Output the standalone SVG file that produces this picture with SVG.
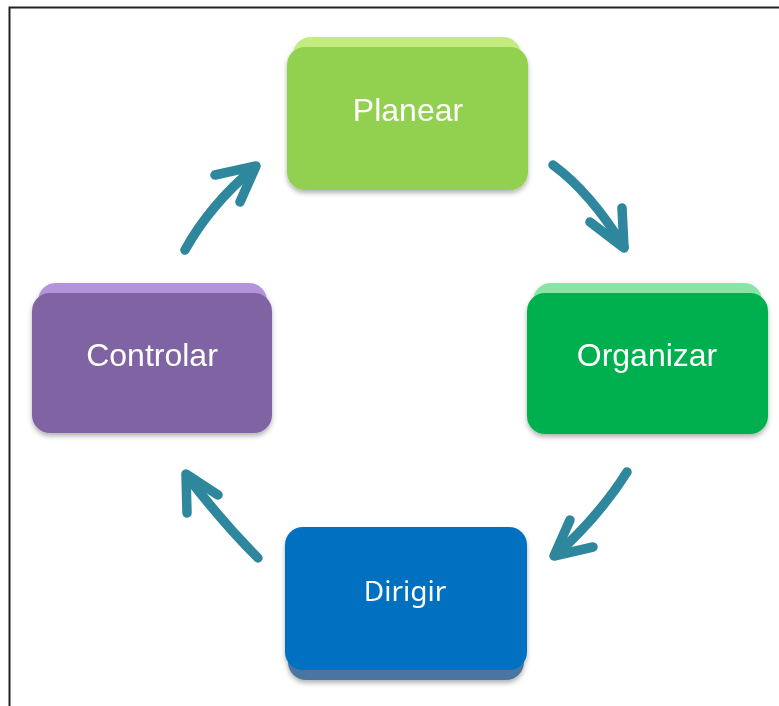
<svg xmlns="http://www.w3.org/2000/svg" width="779" height="706" viewBox="0 0 779 706">
<style>
.lbl{font-family:"Liberation Sans",Arial,sans-serif;font-size:32px;fill:#ffffff;text-anchor:middle}
.lbl2{font-family:"Noto Sans","Open Sans",sans-serif;font-size:28px;fill:#ffffff;text-anchor:middle}
.arr{fill:none;stroke:#2E879C;stroke-width:9.5;stroke-linecap:round;stroke-linejoin:round}
</style>
<defs>
<filter id="sh" x="-10%" y="-10%" width="125%" height="130%">
<feDropShadow dx="0" dy="3" stdDeviation="2.5" flood-color="#000" flood-opacity="0.3"/>
</filter>
</defs>
<rect width="779" height="706" fill="#ffffff"/>
<path d="M9.5 706 V7.5 H779" fill="none" stroke="#222" stroke-width="2"/>

<g id="planear" filter="url(#sh)">
<rect x="293" y="37" width="228" height="140" rx="18" fill="#C3EC80"/>
<rect x="287" y="47" width="241" height="143" rx="18" fill="#92D050"/>
<text class="lbl" x="408" y="121">Planear</text>
</g>

<g id="organizar" filter="url(#sh)">
<rect x="533" y="283" width="229" height="140" rx="18" fill="#86E6A6"/>
<rect x="527" y="293" width="241" height="141" rx="18" fill="#00B050"/>
<text class="lbl" x="647" y="366">Organizar</text>
</g>

<g id="dirigir" filter="url(#sh)">
<rect x="288" y="540" width="236" height="140" rx="18" fill="#4876A0"/>
<rect x="285" y="527" width="242" height="143" rx="18" fill="#0070C0"/>
<text class="lbl2" x="405" y="601">Dirigir</text>
</g>

<g id="controlar" filter="url(#sh)">
<rect x="38" y="283" width="229" height="140" rx="18" fill="#B394DA"/>
<rect x="32" y="293" width="240" height="140" rx="18" fill="#8064A2"/>
<text class="lbl" x="152" y="366">Controlar</text>
</g>

<g id="connectors">
<path class="arr" d="M185 250 Q210 205 254 168"/>
<polyline class="arr" points="215,175 256,166 240,202"/>
<path class="arr" d="M553 165 Q590 192 624 247"/>
<polyline class="arr" points="590,222 624,248 622,208"/>
<path class="arr" d="M627 472 Q600 515 556 555"/>
<polyline class="arr" points="570,520 554,556 593,547"/>
<path class="arr" d="M258 558 Q222 522 187 476"/>
<polyline class="arr" points="187,513 186,474 218,495"/>
</g>
</svg>
